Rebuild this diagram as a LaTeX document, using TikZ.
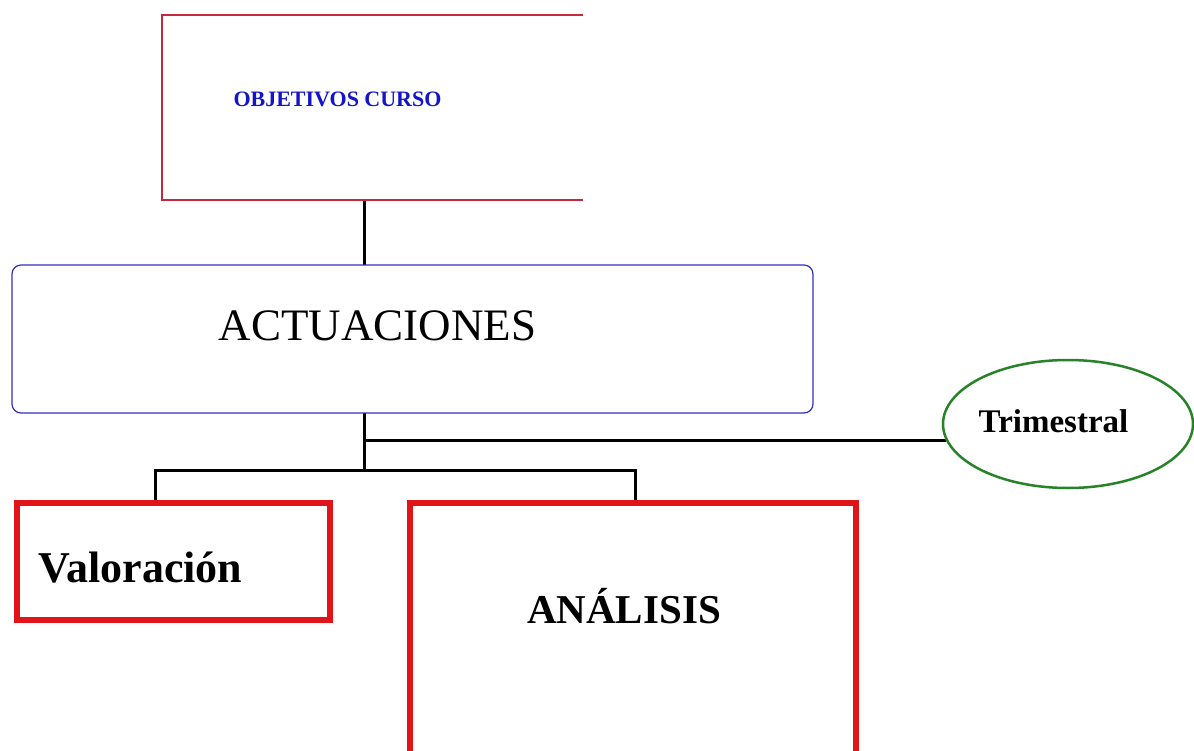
\documentclass[tikz,border=0pt]{standalone}
\usepackage{fontspec}
\setmainfont{Liberation Serif}
\usetikzlibrary{shapes.geometric}
\definecolor{boxred}{RGB}{225,20,25}
\definecolor{thinred}{RGB}{200,40,60}
\definecolor{actblue}{RGB}{50,50,190}
\definecolor{txtblue}{RGB}{20,20,200}
\definecolor{trigreen}{RGB}{40,130,40}
\begin{document}
\begin{tikzpicture}[x=1pt,y=-1pt,
  conn/.style={line width=3pt, draw=black},
  thickbox/.style={draw=boxred, line width=6pt, rectangle, outer sep=0pt, inner sep=0pt},
  plainshape/.style={outer sep=0pt, inner sep=0pt},
  lbl/.style={anchor=base, inner sep=0pt, text=black}]
\useasboundingbox (0,0) rectangle (1194,751);
\clip (0,0) rectangle (1194,751);
\fill[white] (0,0) rectangle (1194,751);

% shapes (undrawn anchors first)
\node[plainshape, minimum width=421pt, minimum height=185pt] (obj) at (372.5,107.5) {};
\node[plainshape, rectangle, minimum width=801pt, minimum height=148pt] (act) at (412.5,339) {};
\node[plainshape, minimum width=313pt, minimum height=117pt] (val) at (173.5,561.5) {};
\node[plainshape, minimum width=446pt, minimum height=257pt] (ana) at (633,631.5) {};
\node[plainshape, ellipse, minimum width=250pt, minimum height=128pt] (tri) at (1068,424) {};

% connectors
\coordinate (j) at (364,0);
\coordinate (hub) at (364,440);
\coordinate (split) at (364,470);
\coordinate (dl) at (155,470);
\coordinate (dr) at (635,470);
\draw[conn] (obj.south -| j) -- (act.north -| j);
\draw[conn] (act.south -| j) -- (split);
\draw[conn] (hub) -- (tri.187 |- hub);
\draw[conn] (val.north -| dl) -- (dl) -- (dr) -- (ana.north -| dr);

% visible outlines
\draw[thinred, line width=1.5pt] (obj.north east) -- (obj.north west) -- (obj.south west) -- (obj.south east);
\draw[actblue, line width=1.2pt, rounded corners=9pt] (act.north west) rectangle (act.south east);
\draw[thickbox] (val.north west) rectangle (val.south east);
\draw[thickbox] (ana.north west) rectangle (ana.south east);
\draw[trigreen, line width=2.5pt] (tri.center) ellipse [x radius=125pt, y radius=64pt];

% texts
\node[lbl, text=txtblue, font=\bfseries\fontsize{22}{26}\selectfont] (objtxt) at (337.5,107) {OBJETIVOS CURSO};
\node[lbl, font=\fontsize{45}{50}\selectfont] (acttxt) at (377.5,340) {ACTUACIONES};
\node[lbl, font=\bfseries\fontsize{44}{50}\selectfont] (valtxt) at (140.5,582) {Valoración};
\node[lbl, font=\bfseries\fontsize{41}{48}\selectfont] (anatxt) at (624,623) {ANÁLISIS};
\node[lbl, font=\bfseries\fontsize{33}{38}\selectfont] (tritxt) at (1053.5,432) {Trimestral};
\end{tikzpicture}
\end{document}
